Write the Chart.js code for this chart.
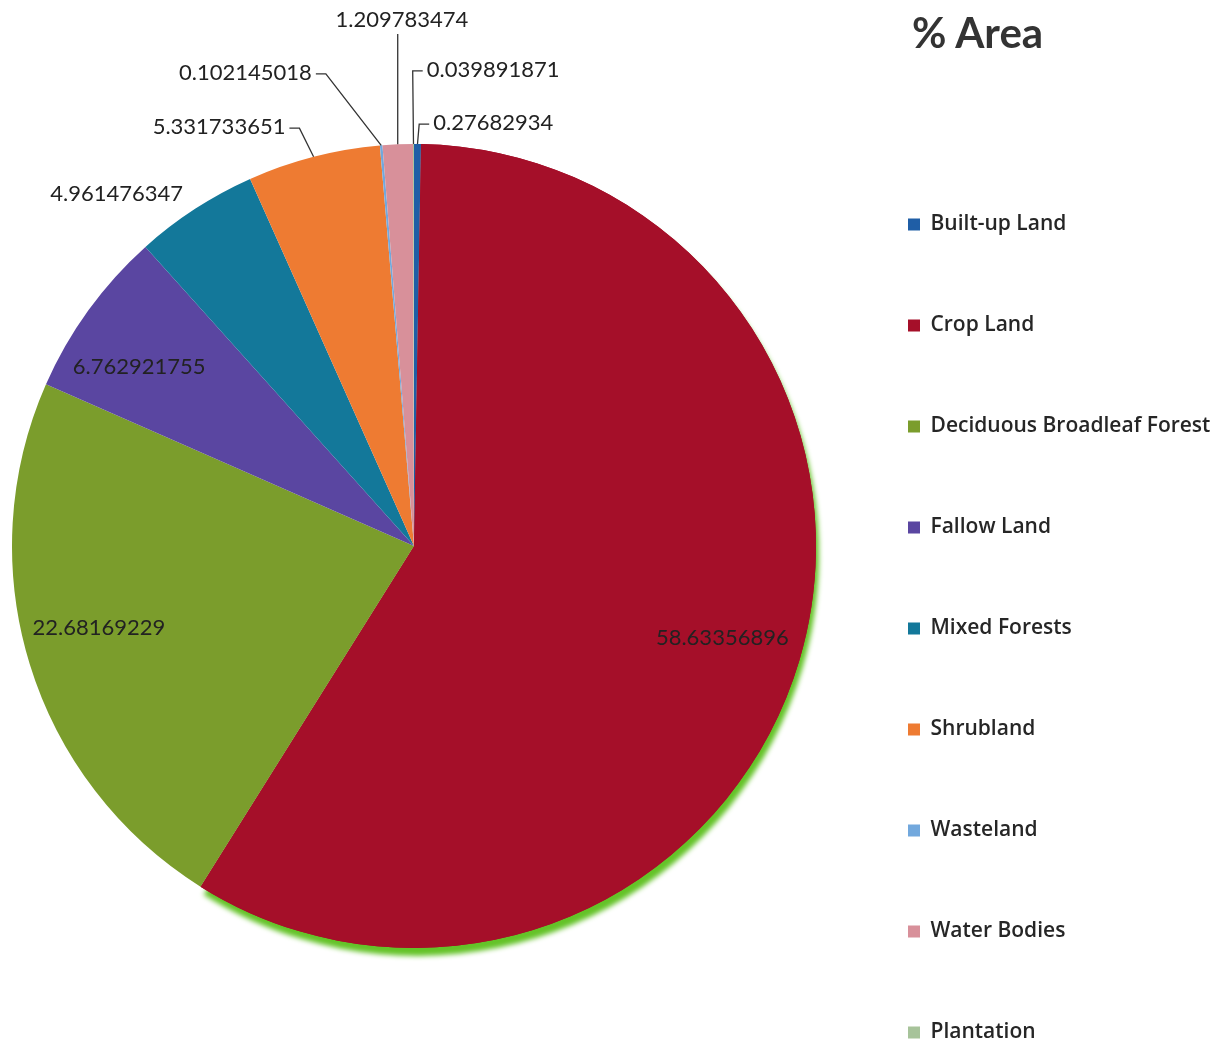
<!DOCTYPE html>
<html>
<head>
<meta charset="utf-8">
<title>% Area</title>
<script src="https://cdn.jsdelivr.net/npm/chart.js@4.4.0/dist/chart.umd.min.js"></script>
<style>
  html, body { margin: 0; padding: 0; background: #fff; overflow: hidden; }
  #wrap { position: relative; width: 1232px; height: 1044px; overflow: hidden; }
  #chart { position: absolute; left: 0; top: -31px; }
  #title { position: absolute; left: 912px; top: 11px; margin: 0; font: bold 42px Lato; line-height: 42px; color: #333; }
</style>
</head>
<body>
<div id="wrap">
  <canvas id="chart" width="1232" height="1154"></canvas>
  <h1 id="title">% Area</h1>
</div>
<script>
// land cover classes and their share of the area (%)
var landClasses = ['Built-up Land', 'Crop Land', 'Deciduous Broadleaf Forest', 'Fallow Land',
                   'Mixed Forests', 'Shrubland', 'Wasteland', 'Water Bodies', 'Plantation'];
var areaValues = [0.27682934, 58.63356896, 22.68169229, 6.762921755,
                  4.961476347, 5.331733651, 0.102145018, 1.209783474, 0.039891871];
var sliceColors = ['#1f5ea6', '#a50f29', '#7b9d2c', '#5a46a1',
                   '#13789a', '#ee7b32', '#72a8dd', '#d8909a', '#a7c39a'];

// where each value label sits: fraction of radius, angle shift (deg) from slice middle
var labelPlace = [
  { r: 1.053, shift: 2.1,  align: 'left',   leader: true },
  { r: 0.80,  shift: 0,    align: 'center', leader: false },
  { r: 0.81,  shift: 2.5,  align: 'center', leader: false },
  { r: 0.816, shift: -2.8, align: 'center', leader: false },
  { r: 1.146, shift: -7.2, align: 'center', leader: false },
  { r: 1.09,  shift: -2.6, align: 'right',  leader: true },
  { r: 1.204, shift: -7.5, align: 'right',  leader: true },
  { r: 1.309, shift: 1.0,  align: 'center', leader: true },
  { r: 1.185, shift: 1.6,  align: 'left',   leader: true }
];

var legendFont = { family: 'Open Sans', size: 21, weight: '600' };
var legendPad = 80;
var legendBox = 12;

// green glow under the crop land slice
var bottomGlow = {
  id: 'bottomGlow',
  beforeDatasetsDraw: function(chart) {
    var arc = chart.getDatasetMeta(0).data[1];
    var ctx = chart.ctx;
    ctx.save();
    ctx.shadowColor = 'rgba(100,195,40,1)';
    ctx.shadowBlur = 5;
    ctx.shadowOffsetX = 3;
    ctx.shadowOffsetY = 8;
    arc.draw(ctx);
    ctx.restore();
  }
};

var sliceLabels = {
  id: 'sliceLabels',
  afterDatasetsDraw: function(chart) {
    var ctx = chart.ctx;
    var meta = chart.getDatasetMeta(0);
    ctx.save();
    ctx.font = '22px Lato';
    ctx.fillStyle = '#222';
    ctx.strokeStyle = '#333';
    ctx.lineWidth = 1.3;
    ctx.textBaseline = 'middle';
    meta.data.forEach(function(arc, i) {
      var p = labelPlace[i];
      var g = arc.getProps(['x', 'y', 'startAngle', 'endAngle', 'outerRadius'], true);
      var mid = (g.startAngle + g.endAngle) / 2;
      var a = mid + p.shift * Math.PI / 180;
      var tx = g.x + Math.cos(a) * g.outerRadius * p.r;
      var ty = g.y + Math.sin(a) * g.outerRadius * p.r;
      ctx.textAlign = p.align;
      ctx.fillText(String(areaValues[i]), tx, ty);
      if (p.leader) {
        var ex = g.x + Math.cos(mid) * g.outerRadius;
        var ey = g.y + Math.sin(mid) * g.outerRadius;
        ctx.beginPath();
        if (p.align === 'center') {
          ctx.moveTo(ex, ty + 14);
          ctx.lineTo(ex, ey);
        } else {
          var dir = p.align === 'left' ? -1 : 1;
          ctx.moveTo(tx + dir * 4, ty + 1);
          ctx.lineTo(tx + dir * 14, ty + 1);
          ctx.lineTo(ex, ey);
        }
        ctx.stroke();
      }
    });
    ctx.restore();
  }
};

var ctx = document.getElementById('chart').getContext('2d');

// legend should start at x=828 so the pie centre lands at 414
ctx.font = legendFont.weight + ' ' + legendFont.size + 'px "' + legendFont.family + '"';
var widest = 0;
landClasses.forEach(function(c) { widest = Math.max(widest, ctx.measureText(c).width); });
var legendWidth = legendPad + legendBox + legendFont.size / 2 + widest + 10;
var rightPad = Math.max(0, 1232 - 828 - legendWidth);

new Chart(ctx, {
  type: 'pie',
  data: {
    labels: landClasses,
    datasets: [{
      data: areaValues,
      backgroundColor: sliceColors,
      borderWidth: 0,
      radius: 402
    }]
  },
  options: {
    responsive: false,
    animation: false,
    layout: { padding: { right: rightPad } },
    plugins: {
      tooltip: { enabled: false },
      legend: {
        position: 'right',
        align: 'end',
        labels: {
          boxWidth: legendBox,
          boxHeight: legendBox,
          padding: legendPad,
          color: '#262626',
          font: legendFont
        }
      }
    }
  },
  plugins: [bottomGlow, sliceLabels]
});
</script>
</body>
</html>
